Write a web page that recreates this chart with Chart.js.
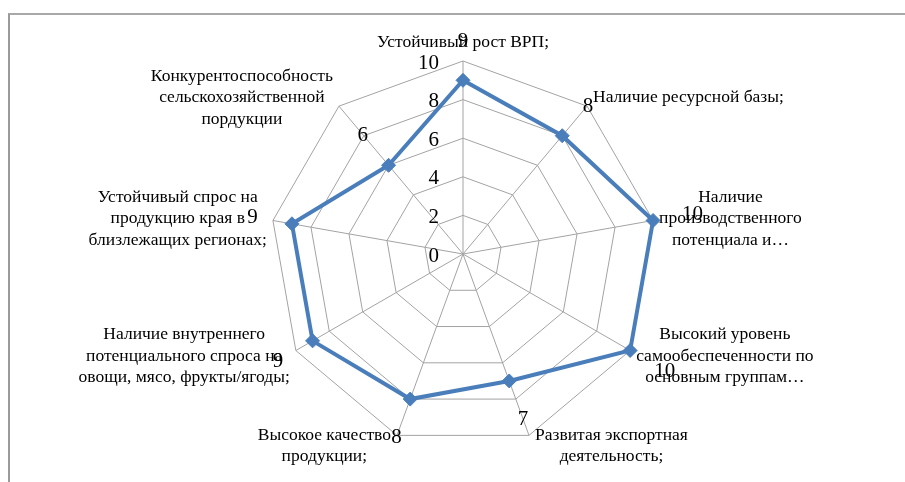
<!DOCTYPE html>
<html>
<head>
<meta charset="utf-8">
<script src="https://cdn.jsdelivr.net/npm/chart.js@4"></script>
<style>
  html, body { margin: 0; padding: 0; background: #fff; }
  #wrap { position: relative; width: 905px; height: 482px; overflow: hidden; }
  #frame { position: absolute; left: 8px; top: 13px; right: -5px; bottom: -5px;
           border-top: 2px solid #a8a8a8; border-left: 2px solid #9a9a9a; pointer-events: none; }
  canvas { position: absolute; left: 0; top: 0; }
</style>
</head>
<body>
<div id="wrap">
  <canvas id="c" width="905" height="482"></canvas>
  <div id="frame"></div>
</div>
<script>
// ---- data ----
const categories = [
  ["Устойчивый рост ВРП;"],
  ["Наличие ресурсной базы;"],
  ["Наличие", "производственного", "потенциала и…"],
  ["Высокий уровень", "самообеспеченности по", "основным группам…"],
  ["Развитая экспортная", "деятельность;"],
  ["Высокое качество", "продукции;"],
  ["Наличие внутреннего", "потенциального спроса на", "овощи, мясо, фрукты/ягоды;"],
  ["Устойчивый спрос на", "продукцию края в", "близлежащих регионах;"],
  ["Конкурентоспособность", "сельскохозяйственной", "пордукции"]
];
const values = [9, 8, 10, 10, 7, 8, 9, 9, 6];
const tickMin = 0;
const tickMax = 10;
const tickStep = 2;

// ---- styles ----
const SERIF = '"Liberation Serif", "Times New Roman", serif';
const lineColor = '#4a7ebb';
const gridColor = '#a3a3a3';

const labelPlugin = {
  id: 'customLabels',
  afterDatasetsDraw(chart) {
    const ctx = chart.ctx;
    const scale = chart.scales.r;
    const cx = scale.xCenter, cy = scale.yCenter;
    ctx.save();
    ctx.fillStyle = '#000';

    // tick labels, right-aligned left of the vertical axis
    ctx.font = '21px ' + SERIF;
    ctx.textAlign = 'right';
    ctx.textBaseline = 'middle';
    scale.ticks.forEach(t => {
      const d = scale.getDistanceFromCenterForValue(t.value);
      ctx.fillText(String(t.value), cx - 24, cy - d + 2);
    });

    // category labels
    ctx.font = '17.5px ' + SERIF;
    const lh = 21.5;
    categories.forEach((lines, i) => {
      const p = scale.getPointPosition(i, scale.drawingArea);
      const a = p.angle + Math.PI / 2; // clockwise from top
      const s = Math.sin(a), c = Math.cos(a);
      const widths = lines.map(l => ctx.measureText(l).width);
      const bw = Math.max(...widths);
      const bh = lines.length * lh;
      let blockCx, blockCy;
      if (Math.abs(s) < 0.2) {
        blockCx = p.x;
        blockCy = c > 0 ? p.y - 8 - bh / 2 : p.y + 8 + bh / 2;
      } else if (s > 0) {
        blockCx = p.x + 6 + bw / 2;
        blockCy = p.y - c * 11;
      } else {
        blockCx = p.x - 6 - bw / 2;
        blockCy = p.y - c * 11;
      }
      ctx.textAlign = 'center';
      ctx.textBaseline = 'middle';
      lines.forEach((l, k) => {
        ctx.fillText(l, blockCx, blockCy - bh / 2 + lh * (k + 0.5));
      });
    });

    // data labels
    ctx.font = '21px ' + SERIF;
    ctx.textAlign = 'center';
    ctx.textBaseline = 'middle';
    values.forEach((v, i) => {
      const d = scale.getDistanceFromCenterForValue(v) + 40;
      const p = scale.getPointPosition(i, d);
      ctx.fillText(String(v), p.x, p.y + 1);
    });
    ctx.restore();
  }
};

new Chart(document.getElementById('c'), {
  type: 'radar',
  data: {
    labels: categories,
    datasets: [{
      data: values,
      borderColor: lineColor,
      backgroundColor: lineColor,
      borderWidth: 4,
      fill: false,
      pointStyle: 'rectRot',
      pointRadius: 7,
      pointHoverRadius: 7,
      pointBackgroundColor: lineColor,
      pointBorderColor: lineColor,
      pointBorderWidth: 1
    }]
  },
  options: {
    responsive: false,
    animation: false,
    layout: { padding: { left: 270, right: 249, top: 61, bottom: 35 } },
    plugins: { legend: { display: false }, tooltip: { enabled: false } },
    scales: {
      r: {
        min: tickMin,
        max: tickMax,
        ticks: { stepSize: tickStep, display: false },
        grid: { color: gridColor, lineWidth: 1 },
        angleLines: { color: gridColor, lineWidth: 1 },
        pointLabels: { display: false }
      }
    }
  },
  plugins: [labelPlugin]
});
</script>
</body>
</html>
